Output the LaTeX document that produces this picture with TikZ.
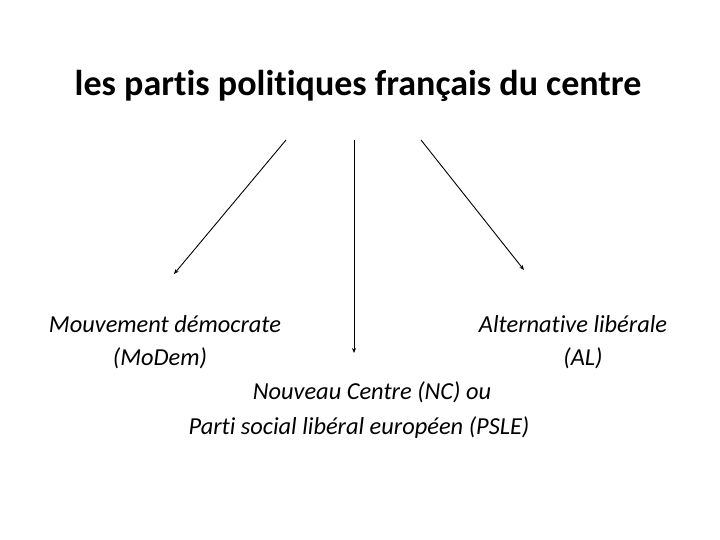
\documentclass[tikz,border=0pt]{standalone}
\usepackage{fontspec}
\setmainfont{Carlito}[Ligatures=NoCommon]
\usetikzlibrary{arrows.meta}
\begin{document}
\begin{tikzpicture}[x=1pt,y=-1pt,
  lbl/.style={font=\fontsize{24.4}{28}\selectfont\itshape, inner sep=0pt, anchor=center},
  conn/.style={draw, line width=0.9pt, -{Stealth[length=5pt,width=4pt]}}]
\useasboundingbox (0,0) rectangle (720,540);
\node[font=\fontsize{36}{42}\selectfont\bfseries, inner sep=0pt] (title) at (358,86) {les partis politiques français du centre};
\coordinate (s1) at (286,140);
\coordinate (e1) at (174,274);
\coordinate (s2) at (354,140);
\coordinate (e2) at (354,353);
\coordinate (s3) at (421,140);
\coordinate (e3) at (524,270);
\draw[conn] (s1) -- (e1);
\draw[conn] (s2) -- (e2);
\draw[conn] (s3) -- (e3);
\node[lbl] (m1) at (165,324) {Mouvement démocrate};
\node[lbl] (m2) at (160,358) {(MoDem)};
\node[lbl] (a1) at (573,324) {Alternative libérale};
\node[lbl] (a2) at (583,358) {(AL)};
\node[lbl] (n1) at (372,392) {Nouveau Centre (NC) ou};
\node[lbl] (n2) at (359,428) {Parti social libéral européen (PSLE)};
\end{tikzpicture}
\end{document}
